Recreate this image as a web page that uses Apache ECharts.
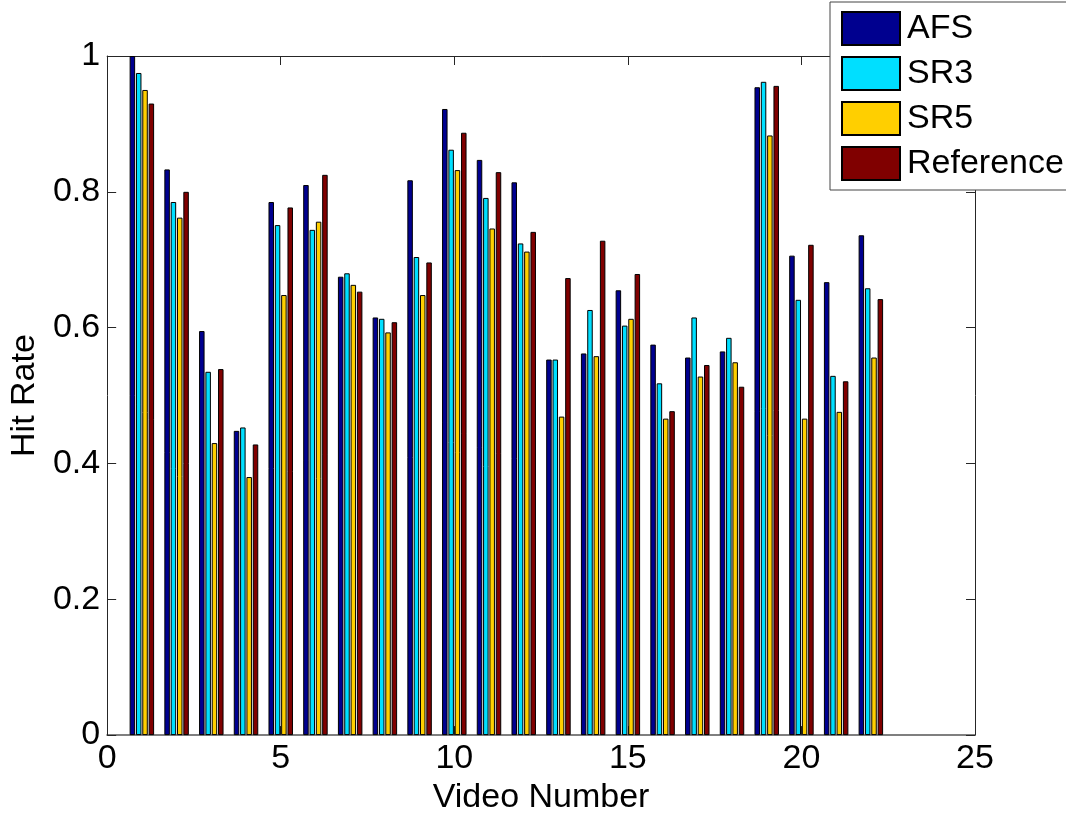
<!DOCTYPE html>
<html>
<head>
<meta charset="utf-8">
<script src="https://cdn.jsdelivr.net/npm/echarts@6/dist/echarts.min.js"></script>
<style>
    html, body { margin: 0; padding: 0; background: #fff; }
    #chart { width: 1066px; height: 820px; }
</style>
</head>
<body>
<div id="chart"></div>
<script>
// video numbers on the x axis
const videoNumbers = [1, 2, 3, 4, 5, 6, 7, 8, 9, 10, 11, 12, 13, 14, 15, 16, 17, 18, 19, 20, 21, 22];

// hit rate per video
const afs = [1.000, 0.833, 0.595, 0.448, 0.785, 0.810, 0.675, 0.615, 0.817, 0.922, 0.847, 0.814,
    0.553, 0.562, 0.655, 0.575, 0.556, 0.565, 0.954, 0.706, 0.667, 0.736];
const sr3 = [0.975, 0.785, 0.535, 0.453, 0.751, 0.744, 0.680, 0.613, 0.704, 0.862, 0.791, 0.724,
    0.553, 0.626, 0.603, 0.518, 0.615, 0.585, 0.962, 0.641, 0.529, 0.658];
const sr5 = [0.950, 0.762, 0.430, 0.380, 0.648, 0.756, 0.663, 0.593, 0.648, 0.832, 0.746, 0.712,
    0.469, 0.558, 0.613, 0.466, 0.528, 0.549, 0.883, 0.466, 0.476, 0.556];
const reference = [0.930, 0.800, 0.539, 0.428, 0.777, 0.825, 0.653, 0.608, 0.696, 0.887, 0.829, 0.741,
    0.673, 0.728, 0.679, 0.477, 0.545, 0.513, 0.956, 0.722, 0.521, 0.642];

const seriesNames = ['AFS', 'SR3', 'SR5', 'Reference'];
const seriesColors = ['#00008F', '#00DFFF', '#FFCF00', '#800000'];

const FONT = '"Liberation Sans", Arial, sans-serif';

const chart = echarts.init(document.getElementById('chart'));

const toPairs = vals => vals.map((v, i) => [videoNumbers[i], v]);

const makeSeries = (name, vals, color) => ({
    name: name,
    type: 'bar',
    xAxisIndex: 0,
    yAxisIndex: 0,
    barWidth: 5.5,
    barGap: '15%',
    data: toPairs(vals),
    itemStyle: { color: color, borderColor: '#000', borderWidth: 1 },
    emphasis: { disabled: true }
});

const option = {
    animation: false,
    backgroundColor: '#fff',
    grid: { left: 106, right: 91, top: 56, bottom: 78 },
    legend: {
        orient: 'vertical',
        left: 830,
        top: 2,
        icon: 'rect',
        itemWidth: 58,
        itemHeight: 33,
        itemGap: 10,
        padding: [9, 20, 9, 11],
        borderColor: '#444',
        borderWidth: 1,
        borderRadius: 0,
        backgroundColor: '#fff',
        textStyle: { fontFamily: FONT, fontSize: 34, color: '#000', padding: [0, 0, 0, 2] },
        data: seriesNames
    },
    xAxis: [{
        type: 'value',
        min: 0,
        max: 25,
        interval: 5,
        name: 'Video Number',
        nameLocation: 'middle',
        nameGap: 40,
        nameTextStyle: { fontFamily: FONT, fontSize: 34, color: '#000' },
        axisLine: { lineStyle: { color: '#7f7f7f', width: 2 } },
        axisTick: { inside: true, length: 9, lineStyle: { color: '#262626' } },
        axisLabel: { fontFamily: FONT, fontSize: 34, color: '#000', margin: 7 },
        splitLine: { show: false }
    }, {
        type: 'value',
        position: 'top',
        min: 0,
        max: 25,
        interval: 5,
        axisLine: { show: true, onZero: false, lineStyle: { color: '#262626' } },
        axisTick: { show: true, inside: true, length: 9, lineStyle: { color: '#262626' } },
        axisLabel: { show: false },
        splitLine: { show: false }
    }],
    yAxis: [{
        type: 'value',
        min: 0,
        max: 1,
        interval: 0.2,
        name: 'Hit Rate',
        nameLocation: 'middle',
        nameGap: 65,
        nameTextStyle: { fontFamily: FONT, fontSize: 34, color: '#000' },
        axisLine: { show: true, lineStyle: { color: '#262626' } },
        axisTick: { show: true, inside: true, length: 9, lineStyle: { color: '#262626' } },
        axisLabel: { fontFamily: FONT, fontSize: 34, color: '#000', margin: 7 },
        splitLine: { show: false }
    }, {
        type: 'value',
        position: 'right',
        min: 0,
        max: 1,
        interval: 0.2,
        axisLine: { show: true, onZero: false, lineStyle: { color: '#262626' } },
        axisTick: { show: true, inside: true, length: 9, lineStyle: { color: '#262626' } },
        axisLabel: { show: false },
        splitLine: { show: false }
    }],
    series: [
        makeSeries(seriesNames[0], afs, seriesColors[0]),
        makeSeries(seriesNames[1], sr3, seriesColors[1]),
        makeSeries(seriesNames[2], sr5, seriesColors[2]),
        makeSeries(seriesNames[3], reference, seriesColors[3])
    ]
};

chart.setOption(option);
</script>
</body>
</html>
